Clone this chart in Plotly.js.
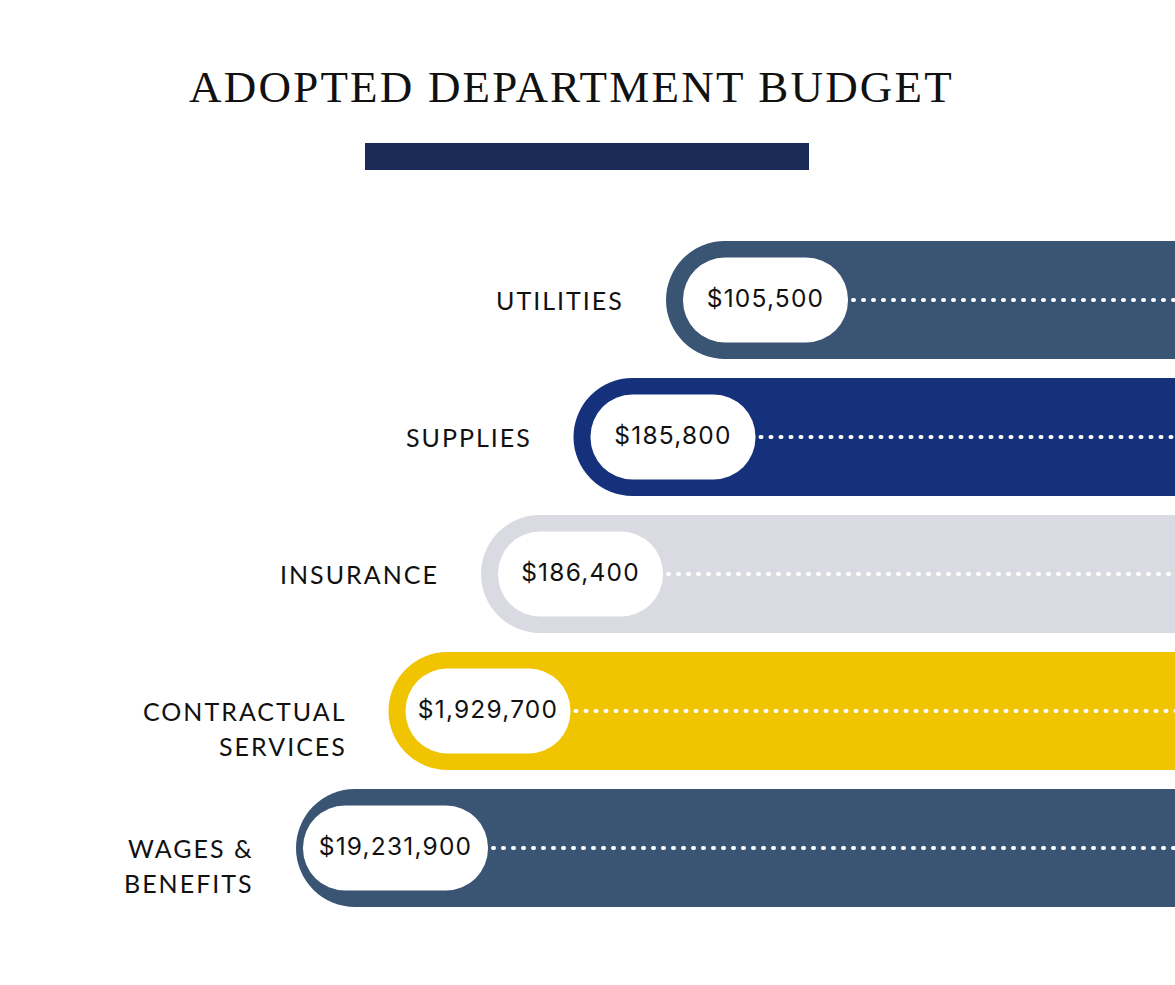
<!DOCTYPE html>
<html>
<head>
<meta charset="utf-8">
<script src="https://cdn.plot.ly/plotly-3.0.1.min.js"></script>
<style>
  html, body { margin: 0; padding: 0; background: #ffffff; }
  #chart { width: 1175px; height: 985px; }
  .gtitle { letter-spacing: 2.2px; }
  .annotation-text { letter-spacing: 2.0px; }
  .textpoint text { letter-spacing: 1.2px; }
  .js-line { stroke-linecap: round; }
</style>
</head>
<body>
<div id="chart"></div>
<script>
// ---- data ----
const categories = ['UTILITIES', 'SUPPLIES', 'INSURANCE', 'CONTRACTUAL<br>SERVICES', 'WAGES &<br>BENEFITS'];
const amounts = [105500, 185800, 186400, 1929700, 19231900];
const barColors = ['#3a5474', '#16317b', '#d9dae2', '#f0c400', '#3a5474'];
const chartTitle = 'ADOPTED DEPARTMENT BUDGET';

// ---- layout helpers (pixel-like axis units) ----
const W = 1175, H = 985;
const rowY = i => 300 + 137 * i;
const barLeft = i => 666 - 92.5 * i;
const valueLabels = amounts.map(v => '$' + v.toLocaleString('en-US'));
const pillCenter = i => barLeft(i) + 99.5;
const pillHalf = i => (valueLabels[i].length > 10 ? 92.5 : 82.5);

const idx = categories.map((_, i) => i);
const rightEdge = W + 150;

const bigBars = {
  type: 'bar', orientation: 'h',
  y: idx.map(rowY),
  base: idx.map(() => rightEdge),
  x: idx.map(i => barLeft(i) - rightEdge),
  width: idx.map(() => 118),
  marker: { color: barColors, cornerradius: 59, line: { width: 0 } },
  hoverinfo: 'skip', showlegend: false
};
const pills = {
  type: 'bar', orientation: 'h',
  y: idx.map(rowY),
  base: idx.map(i => pillCenter(i) - pillHalf(i)),
  x: idx.map(i => 2 * pillHalf(i)),
  width: idx.map(() => 85),
  marker: { color: '#ffffff', cornerradius: 42.5, line: { width: 0 } },
  hoverinfo: 'skip', showlegend: false
};

const dotX = [], dotY = [];
idx.forEach(i => {
  dotX.push(pillCenter(i) + pillHalf(i) + 5, W + 5, null);
  dotY.push(rowY(i), rowY(i), null);
});
const dots = {
  type: 'scatter', mode: 'lines', x: dotX, y: dotY,
  line: { color: '#ffffff', width: 4, dash: '1px,9px' },
  hoverinfo: 'skip', showlegend: false, connectgaps: false
};

const values = {
  type: 'scatter', mode: 'text',
  x: idx.map(pillCenter), y: idx.map(i => rowY(i) + 1),
  text: valueLabels, textposition: 'middle center',
  textfont: { family: 'Inter, "Noto Sans", sans-serif', size: 24.5, color: '#111111' },
  hoverinfo: 'skip', showlegend: false
};

const annotations = [];
idx.forEach(i => {
  const lines = categories[i].split('<br>');
  lines.forEach((ln, k) => {
    annotations.push({
      x: barLeft(i) - 40, y: rowY(i) + k * 35,
      xref: 'x', yref: 'y', xanchor: 'right', yanchor: 'middle', align: 'right',
      text: ln, showarrow: false,
      font: { family: 'Lato, "Noto Sans", sans-serif', size: 25, color: '#111111' }
    });
  });
});

const layout = {
  width: W, height: H,
  margin: { l: 0, r: 0, t: 0, b: 0 },
  paper_bgcolor: '#ffffff', plot_bgcolor: '#ffffff',
  barmode: 'overlay',
  showlegend: false,
  title: {
    text: chartTitle,
    x: 571.5 / W, xanchor: 'center', xref: 'paper',
    y: 1 - 86 / H, yanchor: 'middle', yref: 'paper',
    font: { family: '"Liberation Serif", "DejaVu Serif", serif', size: 45, color: '#111111' }
  },
  xaxis: { range: [0, W], visible: false, fixedrange: true },
  yaxis: { range: [H, 0], visible: false, fixedrange: true },
  shapes: [{
    type: 'rect', xref: 'x', yref: 'y',
    x0: 365, x1: 809, y0: 143, y1: 170,
    fillcolor: '#1a2b57', line: { width: 0 }, layer: 'above'
  }],
  annotations: annotations
};

Plotly.newPlot('chart', [bigBars, pills, dots, values], layout, { displayModeBar: false, staticPlot: true });
</script>
</body>
</html>
